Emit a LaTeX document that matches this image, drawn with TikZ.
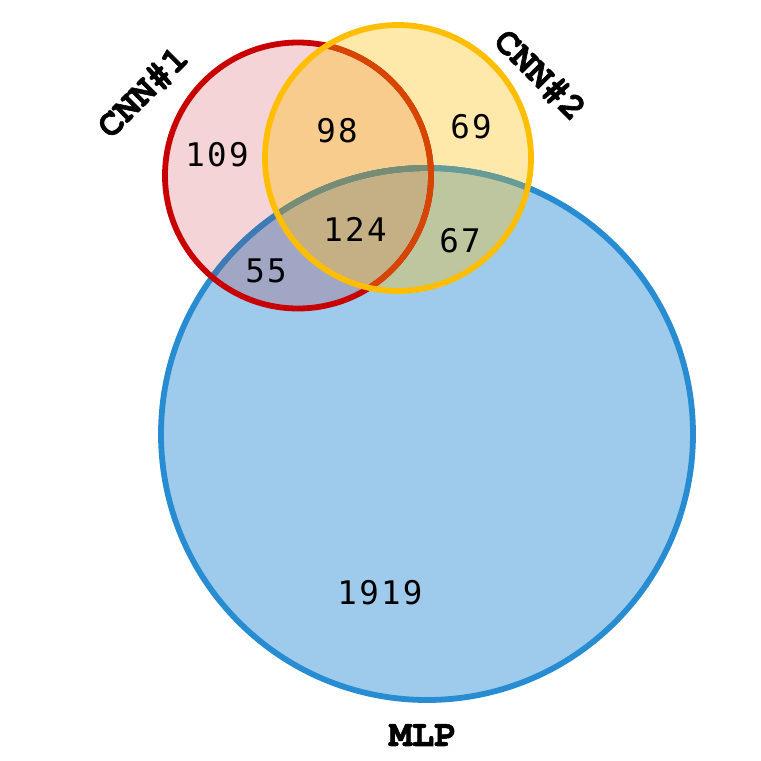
\documentclass[tikz,border=0pt]{standalone}
\usepackage{fontspec}
\newfontfamily\cntfont[LetterSpace=7]{DejaVu Sans Mono}
\newfontfamily\setfont[FakeBold=1.5]{texgyrecursor-bold.otf}
\usetikzlibrary{positioning}
% region colours
\definecolor{OnlyRed}{RGB}{244,212,215}
\definecolor{OnlyYel}{RGB}{255,233,170}
\definecolor{OnlyBlue}{RGB}{158,202,235}
\definecolor{RedYel}{RGB}{248,204,140}
\definecolor{RedBlue}{RGB}{161,166,196}
\definecolor{YelBlue}{RGB}{190,198,160}
\definecolor{AllThree}{RGB}{196,176,132}
% rim colours
\definecolor{RimRed}{RGB}{200,0,0}
\definecolor{RimYel}{RGB}{255,190,0}
\definecolor{RimBlue}{RGB}{40,140,210}
\definecolor{RimRedUnder}{RGB}{215,70,0}
\definecolor{RimBlueR}{RGB}{62,122,180}
\definecolor{RimBlueY}{RGB}{105,155,150}
\definecolor{RimBlueRY}{RGB}{120,140,115}
\tikzset{
	rim/.style={line width=3.3pt},
	cnt/.style={font=\cntfont\fontsize{18.5}{21}\selectfont, inner sep=0pt},
	setlab/.style={font=\setfont\fontsize{21.4}{24}\selectfont, inner sep=0pt}
}
\def\rS{133}
\def\rB{266}

\begin{document}
\begin{tikzpicture}[x=0.2mm, y=-0.2mm]
	\useasboundingbox (0,0) rectangle (761,761);
	\coordinate (cR) at (298,175.5);
	\coordinate (cY) at (398,158);
	\coordinate (cB) at (427,434);
	% single regions
	\fill[OnlyBlue] (cB) circle[radius=\rB];
	\fill[OnlyRed] (cR) circle[radius=\rS];
	\fill[OnlyYel] (cY) circle[radius=\rS];
	% overlaps
	\begin{scope}
		\clip (cR) circle[radius=\rS];
		\fill[RedYel] (cY) circle[radius=\rS];
		\fill[RedBlue] (cB) circle[radius=\rB];
	\end{scope}
	\begin{scope}
		\clip (cY) circle[radius=\rS];
		\fill[YelBlue] (cB) circle[radius=\rB];
		\clip (cR) circle[radius=\rS];
		\fill[AllThree] (cB) circle[radius=\rB];
	\end{scope}
	% rims
	\draw[rim, RimBlue] (cB) circle[radius=\rB];
	\begin{scope}
		\clip (cR) circle[radius=\rS];
		\draw[rim, RimBlueR] (cB) circle[radius=\rB];
	\end{scope}
	\begin{scope}
		\clip (cY) circle[radius=\rS];
		\draw[rim, RimBlueY] (cB) circle[radius=\rB];
		\clip (cR) circle[radius=\rS];
		\draw[rim, RimBlueRY] (cB) circle[radius=\rB];
	\end{scope}
	\draw[rim, RimRed] (cR) circle[radius=\rS];
	\begin{scope}
		\clip (cY) circle[radius=\rS];
		\draw[rim, RimRedUnder] (cR) circle[radius=\rS];
	\end{scope}
	\draw[rim, RimYel] (cY) circle[radius=\rS];
	% counts
	\node[cnt] (n100) at (217,155) {109};
	\node[cnt] (n110) at (337,131) {98};
	\node[cnt] (n010) at (471,127) {69};
	\node[cnt] (n111) at (355,229) {124};
	\node[cnt] (n011) at (460,241) {67};
	\node[cnt] (n101) at (266,271) {55};
	\node[cnt] (n001) at (380,593) {1919};
	% set labels
	\node[setlab, rotate=45] (cnnA) at (143,92) {CNN\#1};
	\node[setlab, rotate=-45] (cnnB) at (540,75) {CNN\#2};
	\node[setlab] (mlp) at (423,735) {MLP};
\end{tikzpicture}
\end{document}
